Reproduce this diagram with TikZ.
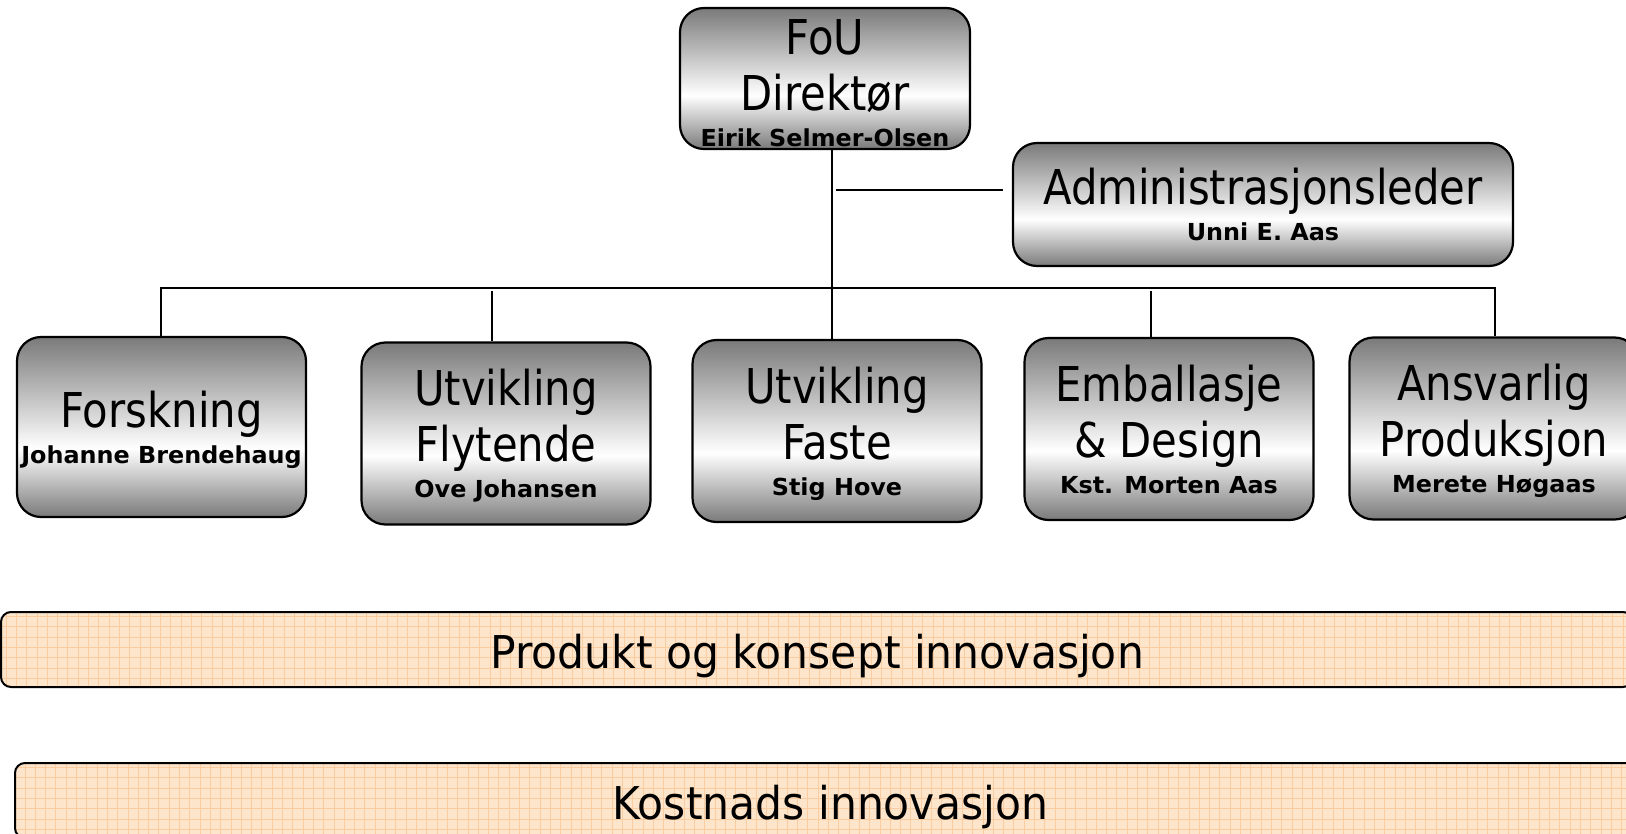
\documentclass[tikz,border=0pt]{standalone}
\usepackage{fontspec}
\setmainfont{DejaVu Sans}
\newfontfamily\headfont{DejaVu Sans}[FakeStretch=0.87]
\newfontfamily\namefont{DejaVu Sans}[FakeStretch=1.02]
\newfontfamily\bandfont{DejaVu Sans}[FakeStretch=0.94]
\definecolor{bandfill}{RGB}{253,229,204}
\definecolor{bandgrid}{RGB}{250,204,160}
\definecolor{unitgray}{RGB}{122,122,122}
\pgfdeclareverticalshading{unitshade}{100bp}{color(0bp)=(unitgray); color(25bp)=(unitgray);
    color(44bp)=(white); color(75bp)=(unitgray); color(100bp)=(unitgray)}
\newcommand{\pname}[1]{\raisebox{0pt}[\height][0pt]{\namefont\bfseries\fontsize{11.7}{13}\selectfont #1}}

\begin{document}
\begin{tikzpicture}[x=0.5pt, y=-0.5pt,
        unit/.style={draw, line width=1.1pt, rounded corners=12pt, inner sep=0pt,
            minimum width=144.5pt, minimum height=91pt, align=center,
            shading=unitshade,
            font=\headfont\fontsize{24}{28}\selectfont},
        band/.style={draw, line width=1pt, rounded corners=5pt, minimum height=37.5pt,
            fill=bandfill, text height=18.5pt, text depth=0pt,
            font=\bandfont\fontsize{22.6}{26}\selectfont,
            path picture={\draw[gridline] (path picture bounding box.south west)
                grid[step=5.15pt] (path picture bounding box.north east);}},
        gridline/.style={draw=bandgrid, line width=0.4pt},
        link/.style={line width=0.9pt}]
    \useasboundingbox (0,0) rectangle (1626,834);

    \node[unit, minimum width=145pt, minimum height=70.5pt] (fou) at (825,78.5)
        {\rule{0pt}{22pt}FoU\\Direktør\\[-10pt]\pname{Eirik Selmer-Olsen}};
    \node[unit, minimum width=250pt, minimum height=61.5pt] (admin) at (1263,204.5)
        {Administrasjonsleder\\[-10pt]\pname{Unni E. Aas}};

    \node[unit, minimum height=90pt] (forsk) at (161.5,427)
        {Forskning\\[-10pt]\pname{Johanne Brendehaug}};
    \node[unit] (flyt) at (506,433.5)
        {Utvikling\\Flytende\\[-10pt]\pname{Ove Johansen}};
    \node[unit] (faste) at (837,431)
        {Utvikling\\Faste\\[-10pt]\pname{Stig Hove}};
    \node[unit] (emb) at (1169,429)
        {Emballasje\\\& Design\\[-10pt]\pname{Kst. Morten Aas}};
    \node[unit] (ansv) at (1494,428.5)
        {Ansvarlig\ \\Produksjon\\[-10pt]\pname{Merete Høgaas}};

    \node[band, minimum width=816pt] (prod) at (817,649.5) {Produkt og konsept innovasjon};
    \node[band, minimum width=815pt] (kost) at (830,800.5) {Kostnads innovasjon};

    % organisation lines
    \coordinate (trunk) at (832,288);
    \coordinate (bus-l) at (161,288);
    \coordinate (bus-r) at (1495,288);
    \coordinate (flyt-drop) at (492,288);
    \coordinate (emb-drop) at (1151,288);
    \coordinate (adm-l) at (836,190);

    \draw[link] (fou.south -| trunk) -- (faste.north -| trunk);
    \draw[link] (forsk.north -| bus-l) -- (bus-l) -- (bus-r) -- (ansv.north -| bus-r);
    \draw[link, shorten <=1.5pt] (flyt-drop) -- (flyt.north -| flyt-drop);
    \draw[link, shorten <=1.5pt] (emb-drop) -- (emb.north -| emb-drop);
    \draw[link, line width=1.1pt, shorten >=4.5pt] (adm-l) -- (adm-l -| admin.west);
\end{tikzpicture}
\end{document}
